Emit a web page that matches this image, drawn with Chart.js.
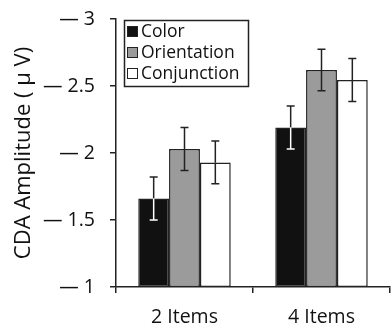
<!DOCTYPE html>
<html>
<head>
<meta charset="utf-8">
<script src="https://cdn.jsdelivr.net/npm/chart.js@4.4.1/dist/chart.umd.min.js"></script>
<style>
html,body{margin:0;padding:0;background:#fff;}
#wrap{width:391px;height:329px;position:relative;}
</style>
</head>
<body>
<div id="wrap"><canvas id="c" width="391" height="329"></canvas></div>
<script>
const categories = ['2 Items', '4 Items'];
const seriesNames = ['Color', 'Orientation', 'Conjunction'];
const colorVals = [-1.66, -2.19];
const orientationVals = [-2.03, -2.62];
const conjunctionVals = [-1.93, -2.545];
const colorErr = [0.16, 0.16];
const orientationErr = [0.16, 0.155];
const conjunctionErr = [0.16, 0.16];
const baseline = -1;
const yTickValues = [-3, -2.5, -2, -1.5, -1];
const yTickLabels = ['\u2014 3', '\u2014 2.5', '\u2014 2', '\u2014 1.5', '\u2014 1'];

const FONT = "'Open Sans', 'Liberation Sans', sans-serif";
const fills = ['#111111', '#9b9b9b', '#ffffff'];
const errLower = ['#ffffff', '#222222', '#222222'];
const seriesVals = [colorVals, orientationVals, conjunctionVals];
const seriesErr = [colorErr, orientationErr, conjunctionErr];

const datasets = seriesNames.map((name, i) => ({
  label: name,
  data: seriesVals[i].map(v => [baseline, v]),
  backgroundColor: fills[i],
  borderColor: '#222222',
  borderWidth: 1.5,
  borderSkipped: false,
  barPercentage: 1.0,
  categoryPercentage: 0.675
}));

const errPlugin = {
  id: 'errbars',
  afterDatasetsDraw(chart) {
    const ctx = chart.ctx;
    const y = chart.scales.y;
    ctx.save();
    ctx.lineWidth = 1.5;
    chart.data.datasets.forEach((ds, di) => {
      const meta = chart.getDatasetMeta(di);
      meta.data.forEach((bar, j) => {
        const v = seriesVals[di][j];
        const e = seriesErr[di][j];
        const x = bar.x;
        const yTop = y.getPixelForValue(v - e);
        const yMid = y.getPixelForValue(v);
        const yBot = y.getPixelForValue(v + e);
        const cap = 4;
        ctx.strokeStyle = '#222222';
        ctx.beginPath();
        ctx.moveTo(x, yTop); ctx.lineTo(x, yMid);
        ctx.moveTo(x - cap, yTop); ctx.lineTo(x + cap, yTop);
        ctx.stroke();
        ctx.strokeStyle = errLower[di];
        ctx.beginPath();
        ctx.moveTo(x, yMid); ctx.lineTo(x, yBot);
        ctx.moveTo(x - cap, yBot); ctx.lineTo(x + cap, yBot);
        ctx.stroke();
      });
    });
    ctx.restore();
  }
};

const legendPlugin = {
  id: 'boxlegend',
  afterDraw(chart) {
    const ctx = chart.ctx;
    ctx.save();
    const bx = 124.5, by = 20.5, bw = 124, bh = 66;
    ctx.strokeStyle = '#222222';
    ctx.lineWidth = 1.5;
    ctx.strokeRect(bx, by, bw, bh);
    ctx.font = '17.5px ' + FONT;
    ctx.textBaseline = 'middle';
    chart.data.datasets.forEach((ds, i) => {
      const cy = 31.5 + i * 21;
      ctx.fillStyle = ds.backgroundColor;
      ctx.fillRect(127.5, cy - 5, 10, 10);
      ctx.lineWidth = 1;
      ctx.strokeStyle = '#222';
      ctx.strokeRect(127.5, cy - 5, 10, 10);
      ctx.fillStyle = '#111';
      ctx.fillText(ds.label, 141, cy + 1);
    });
    ctx.restore();
  }
};

new Chart(document.getElementById('c'), {
  type: 'bar',
  data: { labels: categories, datasets },
  options: {
    responsive: false,
    animation: false,
    layout: { padding: { top: 19, right: 1, left: 0, bottom: 0 } },
    plugins: { legend: { display: false }, tooltip: { enabled: false } },
    scales: {
      x: {
        grid: { display: true, drawOnChartArea: false, offset: true, tickLength: 6, color: '#222', lineWidth: 1.5 },
        border: { display: true, color: '#222', width: 1.5 },
        ticks: { color: '#111', font: { family: FONT, size: 19.5 }, padding: 13 },
        afterFit(s) { s.height = 42; s.paddingLeft = 0; s.paddingRight = 0; }
      },
      y: {
        min: -3, max: -1, reverse: true,
        afterBuildTicks(s) { s.ticks = yTickValues.map(v => ({ value: v })); },
        grid: { display: true, drawOnChartArea: false, tickLength: 6, color: '#222', lineWidth: 1.5 },
        border: { display: true, color: '#222', width: 1.5 },
        ticks: {
          color: '#111', font: { family: FONT, size: 19.5 }, padding: 15,
          callback(v) { const k = yTickValues.indexOf(v); return k >= 0 ? yTickLabels[k] : ''; }
        },
        title: { display: true, text: 'CDA Amplitude ( \u03BC V)', color: '#111', font: { family: FONT, size: 22 }, padding: { top: 11, bottom: 0 } },
        afterFit(s) { s.width = 116; s.paddingTop = 0; s.paddingBottom = 0; }
      }
    }
  },
  plugins: [errPlugin, legendPlugin]
});
</script>
</body>
</html>
